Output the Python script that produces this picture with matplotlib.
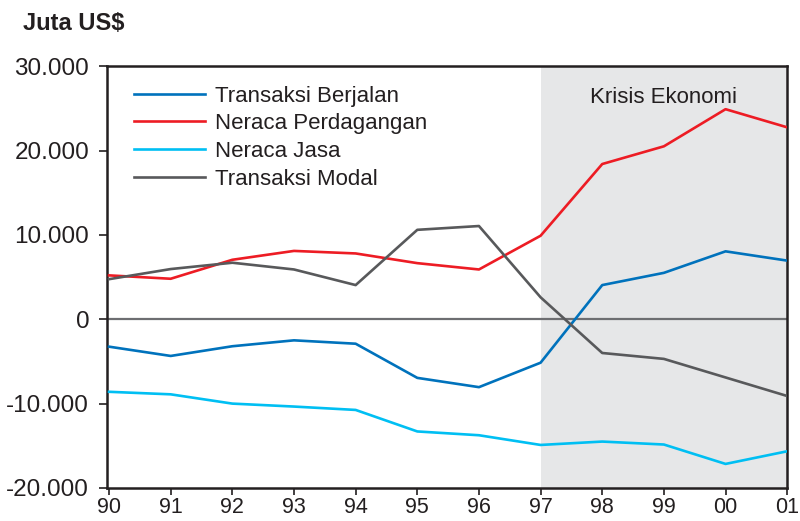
import matplotlib
matplotlib.use("Agg")
import matplotlib.pyplot as plt
from matplotlib.ticker import FuncFormatter

years = ["90", "91", "92", "93", "94", "95", "96", "97", "98", "99", "00", "01"]
transaksi_berjalan = [-3250, -4350, -3200, -2500, -2900, -6950, -8050, -5150, 4050, 5500, 8050, 6950]
neraca_perdagangan = [5200, 4800, 7050, 8100, 7800, 6650, 5900, 9900, 18400, 20500, 24900, 22750]
neraca_jasa = [-8600, -8900, -10000, -10350, -10750, -13300, -13750, -14900, -14500, -14850, -17150, -15650]
transaksi_modal = [4750, 5950, 6700, 5900, 4050, 10600, 11050, 2600, -4000, -4700, -6900, -9100]

series = [
    ("Transaksi Berjalan", transaksi_berjalan, "#0072bc"),
    ("Neraca Perdagangan", neraca_perdagangan, "#ed1c24"),
    ("Neraca Jasa", neraca_jasa, "#00bff3"),
    ("Transaksi Modal", transaksi_modal, "#58595b"),
]

plt.rcParams["font.family"] = ["Liberation Sans", "DejaVu Sans"]
txt = "#231f20"

fig = plt.figure(figsize=(8, 5.21), dpi=100)
ax = fig.add_axes([0.134, 0.0634, 0.850, 0.8096])

x = list(range(len(years)))
ax.axvspan(7, 11, color="#e6e7e8", zorder=0, lw=0)
ax.axhline(0, color="#6d6e71", lw=1.6, zorder=1)

for name, vals, c in series:
    ax.plot(x, vals, color=c, lw=1.9, label=name, zorder=3)

ax.set_xlim(-0.03, 11)
ax.set_ylim(-20000, 30000)
ax.set_xticks(x)
ax.set_xticklabels(years)
ax.set_yticks(range(-20000, 30001, 10000))
ax.yaxis.set_major_formatter(FuncFormatter(lambda v, p: f"{int(v):,}".replace(",", ".")))
ax.tick_params(axis="both", colors=txt, width=1.2, direction="out")
ax.tick_params(axis="y", labelsize=17.5, pad=7, length=6)
ax.tick_params(axis="x", labelsize=15.5, pad=1.5, length=5)
for s in ax.spines.values():
    s.set_color(txt)
    s.set_linewidth(1.8)

ax.text(9, 26300, "Krisis Ekonomi", fontsize=16, color=txt, ha="center", va="center")

leg = ax.legend(loc="upper left", bbox_to_anchor=(0.026, 0.975), frameon=False,
                fontsize=16, handlelength=3.2, handletextpad=0.45, labelspacing=0.3,
                borderaxespad=0)
for t in leg.get_texts():
    t.set_color(txt)

fig.text(0.029, 0.955, "Juta US$", fontsize=17, fontweight="bold", color=txt,
         ha="left", va="center")

fig.savefig("out.png", dpi=100)
